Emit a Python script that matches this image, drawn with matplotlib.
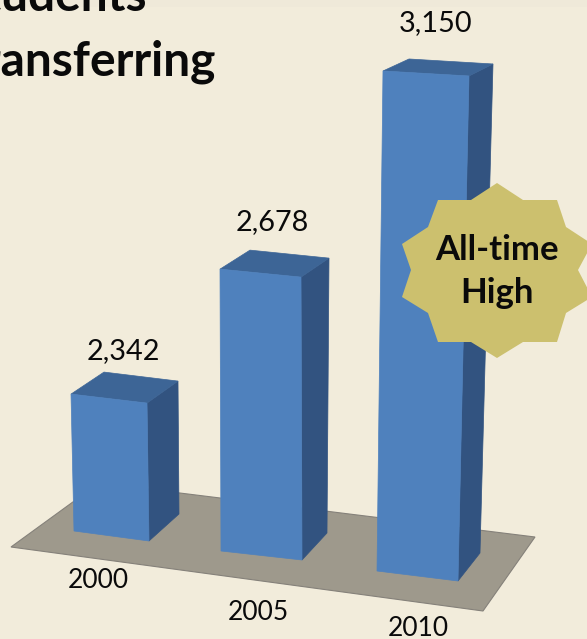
import matplotlib
matplotlib.use("Agg")
import matplotlib.pyplot as plt
import numpy as np

plt.rcParams['font.family'] = ['Lato', 'DejaVu Sans']

# ---- data ----
years = ['2000', '2005', '2010']
students = [2342, 2678, 3150]
title_lines = ['Students', 'Transferring']
badge_lines = ['All-time', 'High']

# ---- layout (pixels of the picture) ----
W, H = 587, 639
left_top = [71, 220, 383]
right_top = [147, 301, 469]
left_bottom = [74, 221, 377]
right_bottom = [149, 302, 458]
bottom_left_y = [531, 551, 571]
bottom_right_y = [541, 560, 581]
top_slant = [9, 8, 5]
depth_top = [(31, -22), (28, -19), (24, -12)]
side_bottom = [(179, 514), (327, 533), (480, 553)]
perspective_nudge = [0, -23.5, 0]
value_axis_limits = (1729.5, 3327.5)

floor_xy = [(11, 547), (99, 483), (535, 537), (483, 611)]
star_xy = [(497, 183), (523, 200), (557, 200), (566, 227), (592, 244), (578, 270),
           (592, 297), (566, 313), (557, 342), (523, 342), (497, 358), (471, 342),
           (438, 342), (428, 313), (402, 297), (411, 270), (402, 244), (428, 227),
           (438, 200), (471, 200)]
value_label_xy = [(123, 351), (272, 222), (436, 23)]
year_label_xy = [(98, 580), (258, 612), (418, 628)]

BG = '#F2ECDB'
FRONT = '#4F81BD'
TOP = '#3D6596'
SIDE = '#325380'
FLOOR = '#9E998C'
STAR = '#CCC06E'

fig = plt.figure(figsize=(W / 100, H / 100), dpi=100, facecolor=BG)

# pixel axes for the stage and annotations
ax_px = fig.add_axes([0, 0, 1, 1], zorder=1)
ax_px.set_xlim(0, W)
ax_px.set_ylim(H, 0)
ax_px.axis('off')

# value axes for the bars
ax_val = fig.add_axes([0, 0, 1, 1], zorder=2)
ax_val.set_xlim(0, W)
ax_val.set_ylim(*value_axis_limits)
ax_val.axis('off')
ax_val.patch.set_alpha(0)

# annotations above the bars
ax_top = fig.add_axes([0, 0, 1, 1], zorder=3)
ax_top.set_xlim(0, W)
ax_top.set_ylim(H, 0)
ax_top.axis('off')
ax_top.patch.set_alpha(0)


def to_value(py):
    lo, hi = value_axis_limits
    return lo + (H - py) / H * (hi - lo)


def px_per_value():
    lo, hi = value_axis_limits
    return H / (hi - lo)


# slightly lighter band at the very top of the background
ax_px.fill_between([0, W], 0, 7, color='#EFE9D9', lw=0)

# floor
fx, fy = zip(*floor_xy)
ax_px.fill(fx, fy, facecolor=FLOOR, edgecolor='#85817A', lw=0.8)

# bars
k = px_per_value()
for i, v in enumerate(students):
    top = v + perspective_nudge[i]
    slant = top_slant[i] / k
    dx, dy = depth_top[i]
    dv = -dy / k
    # side face
    sx, sy = side_bottom[i]
    ax_val.fill([right_top[i], right_top[i] + dx, sx, right_bottom[i]],
                [top - slant, top - slant + dv, to_value(sy), to_value(bottom_right_y[i])],
                color=SIDE, lw=0.5)
    # top face
    ax_val.fill([left_top[i], left_top[i] + dx + 2, right_top[i] + dx, right_top[i]],
                [top, top + dv, top - slant + dv, top - slant],
                color=TOP, lw=0.5)
    # front face
    ax_val.fill([left_top[i], right_top[i], right_bottom[i], left_bottom[i]],
                [top, top - slant, to_value(bottom_right_y[i]), to_value(bottom_left_y[i])],
                color=FRONT, lw=0.5)

# labels
for (x, y), v in zip(value_label_xy, students):
    ax_top.text(x, y, f'{v:,}', ha='center', va='center', fontsize=20.8, color='#0A0A0A')
for (x, y), yr in zip(year_label_xy, years):
    ax_top.text(x, y, yr, ha='center', va='center', fontsize=19, color='#0A0A0A')

# title, running off the picture
ax_top.text(147, 11, title_lines[0], ha='right', va='baseline', fontsize=34.5,
            fontweight='bold', color='#0A0A0A')
ax_top.text(216, 75, title_lines[1], ha='right', va='baseline', fontsize=34.5,
            fontweight='bold', color='#0A0A0A')

# badge
sx, sy = zip(*star_xy)
ax_top.fill(sx, sy, color=STAR, lw=0)
ax_top.text(497, 250, badge_lines[0], ha='center', va='center', fontsize=25,
            fontweight='bold', color='#0A0A0A')
ax_top.text(497, 293, badge_lines[1], ha='center', va='center', fontsize=25,
            fontweight='bold', color='#0A0A0A')

fig.savefig('out.png', dpi=100, facecolor=BG)
